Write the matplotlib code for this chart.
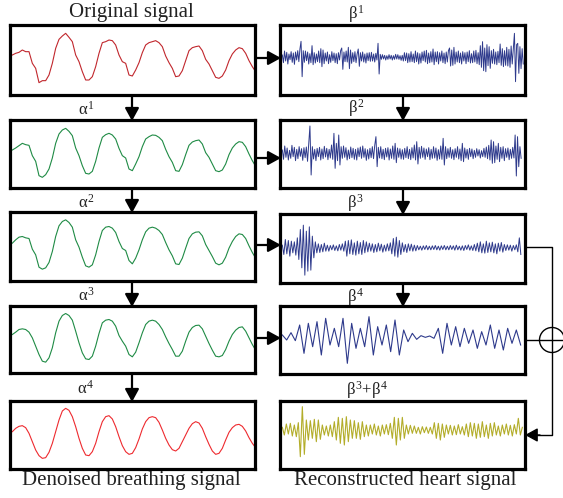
import numpy as np
import matplotlib
matplotlib.use('Agg')
from matplotlib import pyplot as plt
from matplotlib.patches import Circle

plt.rcParams['font.family'] = ['Liberation Serif', 'DejaVu Serif']
plt.rcParams['mathtext.fontset'] = 'custom'
plt.rcParams['mathtext.rm'] = 'Liberation Serif'
plt.rcParams['mathtext.it'] = 'Liberation Serif'

# breathing-band signals, amplitude (one value per ~3 px)
original = [15,20,23,30,25,25,-10,-25,-68,-62,-62,-45,-10,35,62,72,80,68,55,15,-5,-35,-60,-60,-50,-20,20,52,55,60,58,45,15,-5,-10,-45,-48,-30,-8,22,45,52,55,58,52,40,12,-8,-25,-50,-48,-32,-2,28,37,40,42,28,2,-12,-32,-52,-55,-48,-30,-2,18,30,37,34,20,-2,-20,-35]
alpha1 = [12,18,25,32,28,26,-5,-22,-65,-70,-62,-45,-12,32,60,72,77,68,55,18,-5,-35,-58,-60,-52,-22,18,50,58,62,57,45,17,-5,-12,-45,-50,-30,-8,22,45,52,57,56,50,40,14,-8,-25,-50,-52,-32,-2,26,36,40,42,30,4,-10,-30,-50,-53,-48,-30,-2,18,30,37,35,22,0,-20,-37]
alpha2 = [10,20,28,30,26,24,-8,-25,-62,-68,-64,-48,-15,30,62,75,80,72,58,20,-2,-32,-58,-62,-55,-25,15,48,58,60,55,42,15,-6,-12,-42,-52,-35,-10,20,44,55,58,55,48,36,12,-10,-28,-52,-54,-35,-5,24,38,43,44,32,6,-12,-30,-50,-55,-50,-32,-5,15,30,38,36,24,2,-18,-35]
alpha3 = [15,22,30,32,30,22,5,-20,-45,-65,-68,-55,-25,20,55,72,78,72,58,25,-10,-40,-58,-60,-50,-20,18,50,58,60,55,40,12,-5,-20,-45,-52,-38,-10,20,45,55,58,55,45,30,8,-12,-30,-50,-50,-35,-5,22,36,42,43,32,10,-12,-32,-50,-52,-48,-30,-5,15,28,36,38,25,5,-15,-32]
alpha4 = [10,20,26,28,22,5,-20,-45,-62,-70,-68,-52,-25,10,45,72,80,74,55,25,-10,-40,-60,-62,-50,-25,10,40,55,58,48,25,-5,-32,-50,-58,-55,-38,-12,18,40,52,55,52,38,15,-10,-30,-44,-48,-40,-20,0,20,34,40,36,20,-5,-28,-48,-58,-55,-40,-15,8,22,30,32,26,12,-8,-25,-38]

# detail signals
beta1 = [7,-16,19,-11,15,-20,10,-7,17,-15,13,-21,16,-8,20,-13,25,48,-58,20,
         -15,19,-10,16,-20,11,-16,35,-22,14,-17,10,-13,19,-16,26,-28,22,-19,13,
         -11,16,-19,8,-15,17,-10,13,-16,11,-19,14,-8,20,28,-36,16,-13,19,-14,
         30,-34,22,-18,14,-13,17,-16,10,25,-27,14,-11,16,-14,10,-17,13,-10,14,
         -12,15,-11,10,-14,12,-8,42,-50,9,-6,8,-5,6,-8,5,-6,8,-5,6,
         -8,5,-6,9,-5,8,-6,5,-9,6,-11,14,-10,13,-16,11,-14,17,-13,10,
         -16,19,-13,14,-20,11,-17,16,-10,19,-14,21,-19,13,-16,17,-14,25,-22,16,
         -13,17,-20,14,-11,19,-16,13,-19,16,-14,20,28,-26,22,-24,30,-20,16,-14,
         19,-16,13,-20,17,-11,14,-19,16,-13,20,-17,11,-16,19,-14,21,-19,14,-22,
         35,-30,47,-40,28,-43,38,-25,32,-33,20,-18,24,-20,16,-22,18,-16,40,-24,
         26,-28,20,-24,30,-26,24,-30,34,-20,28,72,-73,38,42,-48,32,-34,26,-20]
beta2 = [10,-18,22,-12,16,-20,9,-15,24,-10,18,-22,12,-16,20,-9,14,-21,17,-13,
         19,-24,30,82,-65,20,-17,12,-22,15,-10,18,-20,13,-16,21,-11,15,-19,12,
         -14,25,-18,60,-45,30,-22,55,-35,20,-15,22,-12,17,-20,10,-16,19,-13,15,
         -18,12,-20,16,-10,19,-15,22,-12,14,-21,11,-17,15,-13,20,-16,24,50,-40,
         18,-14,20,-16,12,-19,15,-11,17,-20,13,-15,22,-18,30,-28,16,-12,14,-17,
         11,-18,15,-13,20,-16,12,-19,17,-14,25,-20,35,-32,18,-15,21,-12,16,-18,
         13,-10,17,-19,12,-15,20,-14,16,-21,11,-17,22,-18,45,-35,20,-16,14,-12,
         18,-15,11,-19,14,-12,20,-17,13,-22,30,-25,16,-14,12,-18,15,-10,13,-16,
         9,-12,14,-8,11,-14,8,-10,15,-12,19,-16,24,-20,40,-30,35,-28,22,-18,
         30,-25,18,-15,20,-22,14,-12,16,-19,12,-15,18,-14,55,-68,50,-40,20,-15]
beta3 = [8,-20,25,-18,22,-25,20,-15,18,-22,30,-35,55,-60,68,-82,50,-70,63,-67,
         35,-30,18,-15,12,-14,10,-12,14,-10,8,-10,7,-6,9,-8,6,-9,10,-7,
         12,-10,20,-25,22,-18,24,-20,15,-22,20,-18,16,-20,22,-15,18,-12,14,-10,
         12,-14,10,-12,14,-9,11,-13,8,-10,12,-9,15,-18,28,-25,32,-28,22,-20,
         15,-12,10,-14,12,-9,11,-10,8,-9,7,-6,5,-7,6,-5,7,-6,5,-6,
         6,-5,7,-6,5,-7,6,-5,7,-6,5,-6,7,-5,6,-7,8,-6,5,-7,
         6,-8,7,-5,9,-7,6,-8,10,-9,14,-12,18,-15,12,-16,20,-14,15,-12,
         17,-15,12,-18,14,-10,16,-13,10,-8,9,-7,8,-10,7,-6,9,-12,30,-20]
beta4 = [5,-10,12,-12,35,-50,40,-30,45,-55,55,-25,25,-30,55,-80,40,-35,25,-30,
         60,-55,30,-25,35,-45,50,-55,20,-15,10,-8,3,-2,2,-5,25,-50,40,-25,
         30,-30,25,-20,20,-35,15,-25,35,-35,20,-40,25,-20,20,-25]
beta34 = [8,-15,18,-12,20,-18,15,-20,22,-80,70,-73,30,-30,28,-25,32,-35,30,-28,
          15,-15,12,-18,15,-20,25,-30,38,-40,35,-45,40,-35,30,-25,28,-25,22,-28,
          25,-20,15,-18,15,-12,18,-15,12,-18,15,-12,16,-14,20,-25,38,-45,35,-30,
          38,-25,15,-12,14,-10,12,-10,8,-12,10,-8,9,-10,8,-12,22,-25,20,-30,
          18,-22,15,-12,14,-15,12,-14,16,-12,10,-15,18,-20,22,-18,20,-25,18,-22,
          25,-20,15,-25,20,-18,22,-15,12,-18,15,-12,18,-15,14,-18,16,-12,35,-15,
          8]

fig = plt.figure(figsize=(5.63, 4.98), dpi=100)
W, H = 563, 498
ax0 = fig.add_axes([0, 0, 1, 1])
ax0.set_xlim(0, W)
ax0.set_ylim(H, 0)
ax0.axis('off')

def box(x0, y0, x1, y1, vals, color, start, step, off=0, lw=0.8):
    ax = fig.add_axes([x0 / W, 1 - y1 / H, (x1 - x0) / W, (y1 - y0) / H])
    xs = start + step * np.arange(len(vals))
    ax.plot(xs, vals, color=color, lw=lw)
    hz = 1.5 * (y1 - y0)
    ax.set_xlim(30, 765)
    ax.set_ylim(-hz - off, hz - off)
    ax.set_xticks([])
    ax.set_yticks([])
    for s in ax.spines.values():
        s.set_linewidth(2.3)
    return ax

red, red2 = '#c1272d', '#ee2a2f'
green = '#1f8b45'
blue = '#2e3a8c'
olive = '#b3ad2a'

box(10, 25, 255, 95, original, red, 37, 10)
box(10, 120, 255, 188, alpha1, green, 37, 10)
box(10, 212, 255, 281, alpha2, green, 37, 10)
box(10, 306, 255, 373, alpha3, green, 37, 10)
box(10, 401, 255, 469, alpha4, red2, 37, 10)

box(280, 25, 525, 95, beta1, blue, 37, 3.3, off=8, lw=0.7)
box(280, 120, 525, 188, beta2, blue, 37, 3.6, off=2, lw=0.7)
box(280, 214, 525, 283, beta3, blue, 37, 4.5, off=2, lw=0.7)
box(280, 306, 525, 374, beta4, blue, 37, 13, off=10, lw=0.8)
box(280, 401, 525, 469, beta34, olive, 37, 6, off=15, lw=0.8)

def arrow(x0, y0, x1, y1, lw=1.6):
    ax0.annotate('', xy=(x1, y1), xytext=(x0, y0),
                 arrowprops=dict(arrowstyle='-|>,head_length=0.55,head_width=0.3',
                                 lw=lw, color='k', mutation_scale=14,
                                 shrinkA=0, shrinkB=0))

# horizontal arrows
for y in [58, 158, 245, 338]:
    arrow(255, y, 281, y)
# vertical arrows
for ya, yb in [(95, 121), (188, 213), (281, 307), (373, 402)]:
    arrow(132, ya, 132, yb)
for ya, yb in [(95, 121), (188, 215), (283, 307)]:
    arrow(403, ya, 403, yb)

# summation path
ax0.plot([525, 552, 552, 535], [247, 247, 435, 435], color='k', lw=1)
arrow(540, 435, 525, 435, lw=1)
ax0.plot([525, 565], [340, 340], color='k', lw=1)
ax0.add_patch(Circle((552, 340), 12.5, fill=False, lw=1, color='k'))

tc = '#222222'
ax0.text(131, 12, 'Original signal', ha='center', va='center', fontsize=15, color=tc)
ax0.text(131, 480, 'Denoised breathing signal', ha='center', va='center', fontsize=15, color=tc)
ax0.text(405, 480, 'Reconstructed heart signal', ha='center', va='center', fontsize=15, color=tc)

lbl = dict(ha='center', va='center', fontsize=12, color=tc)
ax0.text(86, 110, r'$\alpha^{1}$', **lbl)
ax0.text(86, 203, r'$\alpha^{2}$', **lbl)
ax0.text(86, 296, r'$\alpha^{3}$', **lbl)
ax0.text(86, 389, r'$\alpha^{4}$', **lbl)
ax0.text(356, 14, r'$\beta^{1}$', **lbl)
ax0.text(356, 108, r'$\beta^{2}$', **lbl)
ax0.text(356, 203, r'$\beta^{3}$', **lbl)
ax0.text(356, 297, r'$\beta^{4}$', **lbl)
ax0.text(367, 390, r'$\beta^{3}$+$\beta^{4}$', **lbl)

fig.savefig('out.png', dpi=100)
